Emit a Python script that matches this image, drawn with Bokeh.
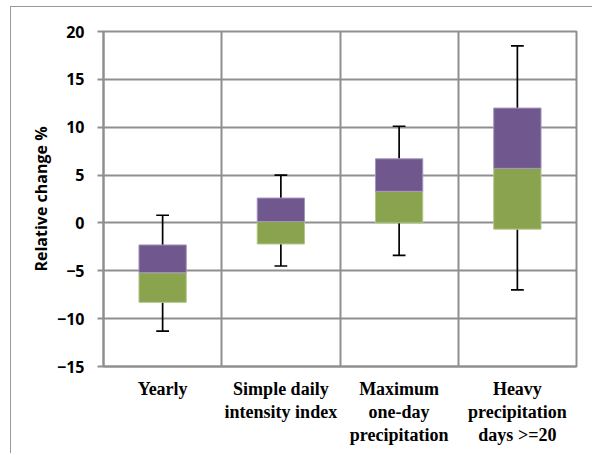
from bokeh.plotting import figure
from bokeh.models import FixedTicker, ColumnDataSource
from bokeh.transform import dodge
from bokeh.embed import file_html
from bokeh.resources import INLINE

categories = ["Yearly", "Simple daily\nintensity index", "Maximum\none-day\nprecipitation",
              "Heavy\nprecipitation\ndays >=20"]
whisker_low = [-11.3, -4.5, -3.4, -7.0]
box_low = [-8.3, -2.2, 0.0, -0.65]
median = [-5.2, 0.15, 3.3, 5.7]
box_high = [-2.3, 2.6, 6.7, 12.0]
whisker_high = [0.8, 5.0, 10.1, 18.5]
y_ticks = [-15, -10, -5, 0, 5, 10, 15, 20]

xs = [i + 0.5 for i in range(len(categories))]
src = ColumnDataSource(dict(x=xs, wl=whisker_low, bl=box_low, md=median, bh=box_high, wh=whisker_high))

p = figure(width=582, height=447, output_backend="svg", toolbar_location=None,
           x_range=(0, 4), y_range=(-15, 20),
           min_border_left=92, min_border_right=17, min_border_top=24, min_border_bottom=88)
p.styles = {"margin-left": "10px", "margin-top": "6px",
            "border-left": "1.5px solid #9a9a9a", "border-top": "1.5px solid #9a9a9a"}

grid_color = "#8f8f8f"
p.outline_line_color = grid_color
p.outline_line_width = 2

p.xgrid.ticker = FixedTicker(ticks=[1, 2, 3])
p.xgrid.grid_line_color = grid_color
p.xgrid.grid_line_width = 2
p.ygrid.ticker = FixedTicker(ticks=y_ticks)
p.ygrid.grid_line_color = grid_color
p.ygrid.grid_line_width = 2

# y axis
p.yaxis.ticker = FixedTicker(ticks=y_ticks)
p.yaxis.axis_line_color = grid_color
p.yaxis.axis_line_width = 2
p.yaxis.major_tick_line_color = grid_color
p.yaxis.major_tick_line_width = 2
p.yaxis.major_tick_out = 6
p.yaxis.major_tick_in = 0
p.yaxis.minor_tick_line_color = None
p.yaxis.major_label_text_font = "Open Sans"
p.yaxis.major_label_text_font_style = "bold"
p.yaxis.major_label_text_font_size = "16px"
p.yaxis.major_label_text_color = "black"
p.yaxis.major_label_standoff = 13
p.yaxis.axis_label = "Relative change %"
p.yaxis.axis_label_text_font = "Open Sans"
p.yaxis.axis_label_text_font_style = "bold"
p.yaxis.axis_label_text_font_size = "16px"
p.yaxis.axis_label_text_color = "black"
p.yaxis.axis_label_standoff = 2

# x axis
p.xaxis.ticker = FixedTicker(ticks=xs)
p.xaxis.major_label_overrides = {x: c for x, c in zip(xs, categories)}
p.xaxis.axis_line_color = grid_color
p.xaxis.axis_line_width = 2
p.xaxis.major_tick_line_color = None
p.xaxis.minor_tick_line_color = None
p.xaxis.major_label_text_font = "Liberation Serif"
p.xaxis.major_label_text_font_style = "bold"
p.xaxis.major_label_text_font_size = "18px"
p.xaxis.major_label_text_color = "black"
p.xaxis.major_label_text_line_height = 1.15
p.xaxis.major_label_standoff = 6

# whiskers
p.segment(x0="x", y0="wl", x1="x", y1="bl", source=src, line_color="black", line_width=1.7)
p.segment(x0="x", y0="bh", x1="x", y1="wh", source=src, line_color="black", line_width=1.7)
p.segment(x0=dodge("x", -0.054), y0="wl", x1=dodge("x", 0.054), y1="wl", source=src,
          line_color="black", line_width=1.7)
p.segment(x0=dodge("x", -0.054), y0="wh", x1=dodge("x", 0.054), y1="wh", source=src,
          line_color="black", line_width=1.7)

# boxes
p.vbar(x="x", bottom="bl", top="md", width=0.4, source=src, fill_color="#89A34E", line_color="#B3C78A", line_width=1)
p.vbar(x="x", bottom="md", top="bh", width=0.4, source=src, fill_color="#70588E", line_color="#A595BD", line_width=1)

open("out.html", "w").write(file_html(p, INLINE))
